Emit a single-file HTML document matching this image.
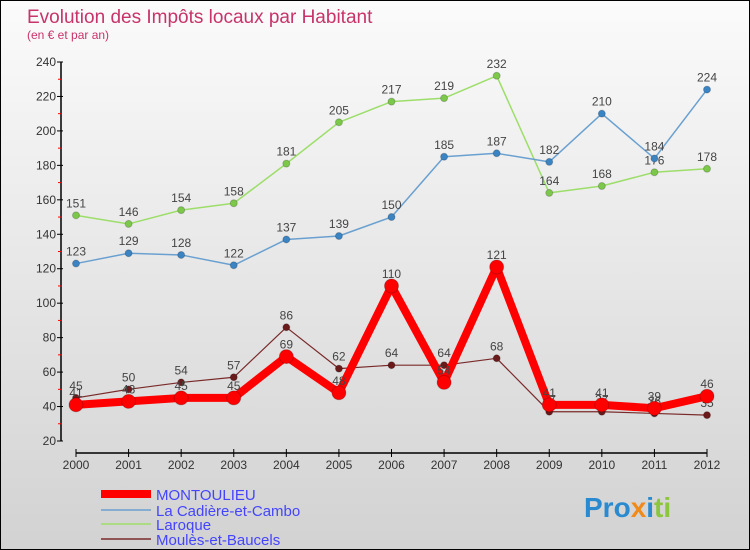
<!DOCTYPE html>
<html><head><meta charset="utf-8"><style>
body{margin:0}
#c{width:748px;height:548px;border:1px solid #000;background:linear-gradient(#fbfbfb,#d2d2d2);position:relative;overflow:hidden;font-family:"Liberation Sans",sans-serif}
</style></head><body>
<div id="c">
<svg id="s" width="748" height="548" xmlns="http://www.w3.org/2000/svg">
<text x="26" y="22" font-size="19" fill="#c8336a">Evolution des Impôts locaux par Habitant</text>
<text x="26" y="38" font-size="12" fill="#c8336a">(en € et par an)</text>
<g id="axes"></g><g id="series"></g>
<g>
<line x1="100" y1="493" x2="150" y2="493" stroke="#f00" stroke-width="8"/>
<text x="155" y="499" font-size="15" fill="#44f">MONTOULIEU</text>
<line x1="100" y1="509" x2="150" y2="509" stroke="#6aa0d0" stroke-width="1.5"/>
<text x="155" y="515" font-size="15" fill="#44f">La Cadière-et-Cambo</text>
<line x1="100" y1="523" x2="150" y2="523" stroke="#9dde6a" stroke-width="1.5"/>
<text x="155" y="529" font-size="15" fill="#44f">Laroque</text>
<line x1="100" y1="538" x2="150" y2="538" stroke="#7a2a2a" stroke-width="1.5"/>
<text x="155" y="544" font-size="15" fill="#44f">Moulès-et-Baucels</text>
</g>
<text x="583" y="516" font-size="28" font-weight="bold"><tspan fill="#2a8ad0">Pro</tspan><tspan fill="#f08a1a">x</tspan><tspan fill="#2a8ad0">i</tspan><tspan fill="#8cc63f">ti</tspan></text>
</svg></div>
<script>
const years=[2000,2001,2002,2003,2004,2005,2006,2007,2008,2009,2010,2011,2012];
const yTicks=[20,40,60,80,100,120,140,160,180,200,220,240];
const laroque=[151,146,154,158,181,205,217,219,232,164,168,176,178];
const cadiere=[123,129,128,122,137,139,150,185,187,182,210,184,224];
const moules=[45,50,54,57,86,62,64,64,68,37,37,36,35];
const montoulieu=[41,43,45,45,69,48,110,54,121,41,41,39,46];
const NS="http://www.w3.org/2000/svg";
const X=i=>75+(706-75)*i/(years.length-1);
const Y=v=>440-(v-20)*(440-61)/220;
function mk(t,a,p){const e=document.createElementNS(NS,t);for(const k in a)e.setAttribute(k,a[k]);p.appendChild(e);return e;}
const ax=document.getElementById('axes');
let e=mk('line',{x1:60,y1:Y(240),x2:60,y2:Y(20),stroke:'#000','stroke-width':1.5},ax);


e=mk('line',{x1:75,y1:452,x2:706,y2:452,stroke:'#000','stroke-width':1.5},ax);


yTicks.forEach(v=>{
 mk('line',{x1:56,y1:Y(v),x2:62,y2:Y(v),stroke:'#000'},ax);
 if(v<240)mk('line',{x1:57,y1:Y(v+10),x2:61,y2:Y(v+10),stroke:'#f00'},ax);
 const t=mk('text',{x:55,y:Y(v)+4,'font-size':12,fill:'#333','text-anchor':'end'},ax);t.textContent=v;
 
 
});
years.forEach((y,i)=>{
 mk('line',{x1:X(i),y1:448,x2:X(i),y2:456,stroke:'#000'},ax);
 const t=mk('text',{x:X(i),y:468,'font-size':12,fill:'#333','text-anchor':'middle'},ax);t.textContent=y;
 
 
});
const sg=document.getElementById('series');
function series(d,col,w,r,dot,name){
 const g=mk('g',{},sg);
 
 
 mk('polyline',{points:d.map((v,i)=>X(i)+','+Y(v)).join(' '),fill:'none',stroke:col,'stroke-width':w,'stroke-linejoin':'round'},g);
 d.forEach((v,i)=>{
  const c=mk('circle',{cx:X(i),cy:Y(v),r:r,fill:dot,stroke:'#0003'},g);
  
  
  const t=mk('text',{x:X(i),y:Y(v)-8,'font-size':12,fill:'#444','text-anchor':'middle'},g);t.textContent=v;
 });
}
series(laroque,'#9dde6a',1.5,3.5,'#7cc84a','series-laroque');
series(cadiere,'#6aa0d0',1.5,3.5,'#3a84c4','series-cadiere');
series(moules,'#7a2a2a',1.2,3.5,'#6a1a1a','series-moules');
series(montoulieu,'#f00',8,7,'#f00','series-montoulieu');
</script>
</body></html>
